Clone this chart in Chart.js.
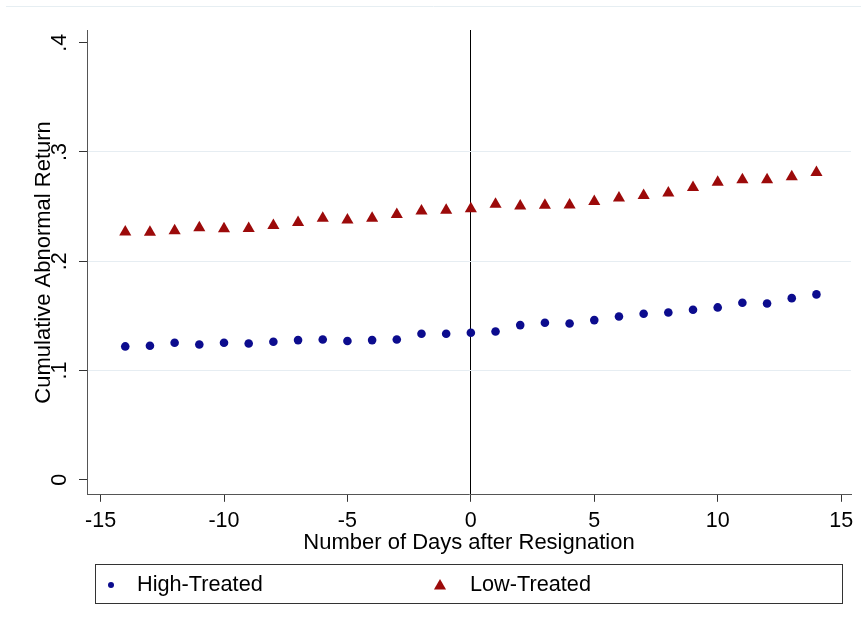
<!DOCTYPE html>
<html>
<head>
<meta charset="utf-8">
<script src="https://cdn.jsdelivr.net/npm/chart.js@4.4.1/dist/chart.umd.min.js"></script>
<style>
  html, body { margin: 0; padding: 0; background: #fff; }
  #wrap { width: 861px; height: 627px; }
</style>
</head>
<body>
<div id="wrap"><canvas id="myChart" width="861" height="627"></canvas></div>
<script>
// days relative to resignation
var days = [-14, -13, -12, -11, -10, -9, -8, -7, -6, -5, -4, -3, -2, -1, 0,
            1, 2, 3, 4, 5, 6, 7, 8, 9, 10, 11, 12, 13, 14];
var highTreated = [0.1220, 0.1226, 0.1253, 0.1238, 0.1253, 0.1247, 0.1263, 0.1278, 0.1284, 0.1269,
                   0.1278, 0.1284, 0.1336, 0.1336, 0.1345, 0.1357, 0.1415, 0.1436, 0.1430, 0.1461,
                   0.1494, 0.1519, 0.1531, 0.1555, 0.1577, 0.1620, 0.1613, 0.1662, 0.1696];
var lowTreated = [0.2268, 0.2264, 0.2278, 0.2305, 0.2296, 0.2299, 0.2326, 0.2354, 0.2394, 0.2378,
                  0.2394, 0.2427, 0.2460, 0.2466, 0.2479, 0.2522, 0.2506, 0.2512, 0.2515, 0.2546,
                  0.2579, 0.2601, 0.2625, 0.2674, 0.2723, 0.2745, 0.2745, 0.2772, 0.2811];
var xTicks = [-15, -10, -5, 0, 5, 10, 15];
var yTicks = [0, 0.1, 0.2, 0.3, 0.4];
var yTickLabels = ['0', '.1', '.2', '.3', '.4'];

var FONT = "'Liberation Sans', Arial, sans-serif";

function pts(vals) {
  return days.map(function(d, i) { return { x: d, y: vals[i] }; });
}

// stata style legend box under the plot
var legendBox = {
  id: 'legendBox',
  afterDraw: function(chart) {
    var ctx = chart.ctx;
    ctx.save();
    // faint graph region border at top
    ctx.strokeStyle = '#e6eef2';
    ctx.lineWidth = 1;
    ctx.beginPath();
    ctx.moveTo(6, 6.5);
    ctx.lineTo(861, 6.5);
    ctx.stroke();

    ctx.strokeStyle = '#333';
    ctx.strokeRect(95.5, 564.5, 747, 39);
    var items = [
      { ds: chart.data.datasets[0], mx: 111, my: 585, tx: 137, r: 3 },
      { ds: chart.data.datasets[1], mx: 440, my: 586, tx: 470, r: 7 }
    ];
    items.forEach(function(it) {
      ctx.fillStyle = it.ds.backgroundColor;
      Chart.helpers.drawPoint(ctx, { pointStyle: it.ds.pointStyle, radius: it.r, borderWidth: 0 }, it.mx, it.my);
      ctx.fillStyle = '#000';
      ctx.font = '21.7px ' + FONT;
      ctx.textBaseline = 'middle';
      ctx.textAlign = 'left';
      ctx.fillText(it.ds.label, it.tx, 585);
    });
    ctx.restore();
  }
};

var ctx = document.getElementById('myChart').getContext('2d');
var chart = new Chart(ctx, {
  type: 'scatter',
  data: {
    datasets: [{
      label: 'High-Treated',
      data: pts(highTreated),
      pointStyle: 'circle',
      pointRadius: 4.3,
      backgroundColor: '#0c0c8e',
      borderColor: '#0c0c8e',
      borderWidth: 0
    }, {
      label: 'Low-Treated',
      data: pts(lowTreated),
      pointStyle: 'triangle',
      pointRadius: 7,
      backgroundColor: '#9c0a0a',
      borderColor: '#9c0a0a',
      borderWidth: 0
    }]
  },
  options: {
    responsive: false,
    animation: false,
    layout: { padding: { left: 0, top: 30, right: 10, bottom: 69 } },
    plugins: {
      legend: { display: false },
      tooltip: { enabled: false }
    },
    scales: {
      x: {
        type: 'linear',
        min: -15.55,
        max: 15.4,
        afterBuildTicks: function(scale) {
          scale.ticks = xTicks.map(function(v) { return { value: v }; });
        },
        border: { color: '#555', width: 1 },
        grid: {
          drawOnChartArea: true,
          tickLength: 7,
          tickColor: '#333',
          color: function(c) { return c.tick && c.tick.value === 0 ? '#000' : 'rgba(0,0,0,0)'; }
        },
        ticks: {
          padding: 6,
          color: '#000',
          maxRotation: 0,
          font: { family: FONT, size: 21.5 }
        },
        title: {
          display: true,
          text: 'Number of Days after Resignation',
          color: '#000',
          font: { family: FONT, size: 22 },
          padding: { top: -10, bottom: 2 }
        }
      },
      y: {
        type: 'linear',
        min: -0.0138,
        max: 0.4116,
        afterBuildTicks: function(scale) {
          scale.ticks = yTicks.map(function(v) { return { value: v }; });
        },
        afterFit: function(scale) { scale.width = 87; },
        border: { color: '#555', width: 1 },
        grid: {
          tickLength: 8,
          tickColor: '#333',
          color: function(c) {
            var v = c.tick ? c.tick.value : 0;
            return (v > 0.01 && v < 0.39) ? '#e6edf2' : 'rgba(0,0,0,0)';
          }
        },
        ticks: {
          minRotation: 90,
          maxRotation: 90,
          crossAlign: 'center',
          padding: 10,
          color: '#000',
          font: { family: FONT, size: 21.5 },
          callback: function(value) {
            var i = yTicks.indexOf(value);
            return i >= 0 ? yTickLabels[i] : '';
          }
        },
        title: {
          display: true,
          text: 'Cumulative Abnormal Return',
          color: '#000',
          font: { family: FONT, size: 22 },
          padding: { top: 31, bottom: 0 }
        }
      }
    }
  },
  plugins: [legendBox]
});
</script>
</body>
</html>
